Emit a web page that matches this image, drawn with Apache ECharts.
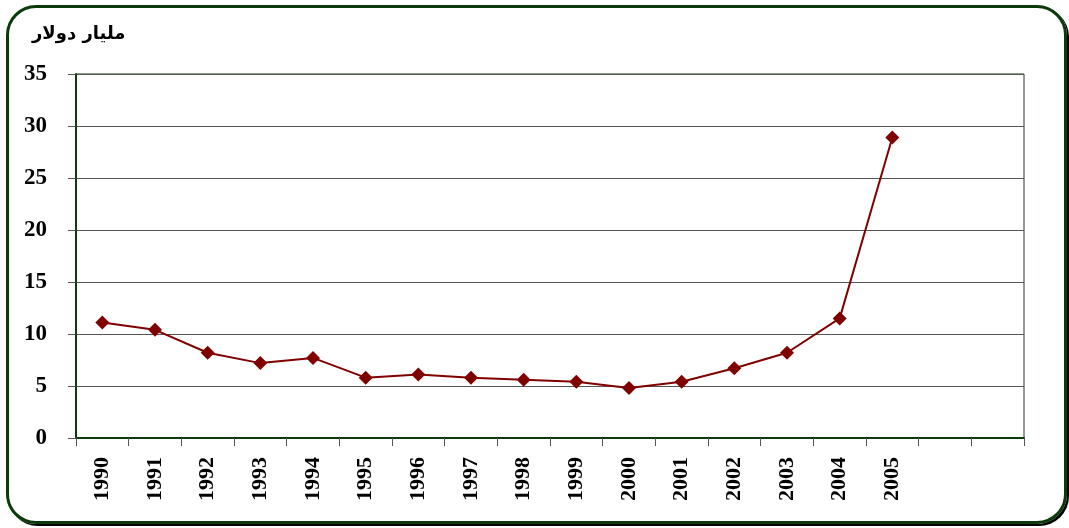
<!DOCTYPE html>
<html>
<head>
<meta charset="utf-8">
<script src="https://cdn.jsdelivr.net/npm/echarts@6/dist/echarts.min.js"></script>
<style>
  html, body { margin: 0; padding: 0; background: #fff; }
  #wrap { position: relative; width: 1069px; height: 528px; }
  #frame {
    position: absolute; left: 6px; top: 5px; width: 1055px; height: 513px;
    border: 3px solid #0b3a0b; border-radius: 30px;
    box-shadow: 2px 2px 0 #000;
  }
  #chart { position: absolute; left: 0; top: 0; width: 1069px; height: 528px; }
</style>
</head>
<body>
<div id="wrap">
  <div id="frame"></div>
  <div id="chart"></div>
</div>
<script>
var years = ['1990', '1991', '1992', '1993', '1994', '1995', '1996', '1997',
  '1998', '1999', '2000', '2001', '2002', '2003', '2004', '2005'];
var blankCats = [' ', '  '];
var values = [11.1, 10.4, 8.2, 7.2, 7.7, 5.8, 6.1, 5.8, 5.6, 5.4, 4.8, 5.4, 6.7, 8.2, 11.5, 28.9];
var yTicks = [0, 5, 10, 15, 20, 25, 30, 35];

var chart = echarts.init(document.getElementById('chart'));

var option = {
  animation: false,
  backgroundColor: 'transparent',
  title: {
    text: 'مليار دولار',
    left: 27,
    top: 20,
    textStyle: {
      fontFamily: 'DejaVu Sans',
      fontWeight: 'bold',
      fontSize: 18,
      color: '#000'
    }
  },
  grid: {
    left: 76,
    right: 45,
    top: 74,
    bottom: 90,
    show: true,
    borderColor: '#1f3f1f',
    borderWidth: 1
  },
  xAxis: {
    type: 'category',
    data: years.concat(blankCats),
    boundaryGap: true,
    axisLine: { lineStyle: { color: '#0b3a0b', width: 2 } },
    axisTick: { show: true, interval: 0, length: 8, lineStyle: { color: '#555' } },
    axisLabel: {
      interval: 0,
      rotate: 90,
      margin: 19,
      fontFamily: 'Liberation Serif',
      fontWeight: 'bold',
      fontSize: 22,
      color: '#000'
    },
    splitLine: { show: false }
  },
  yAxis: {
    type: 'value',
    min: yTicks[0],
    max: yTicks[yTicks.length - 1],
    interval: 5,
    axisLine: { show: true, lineStyle: { color: '#0b3a0b', width: 2 } },
    axisTick: { show: true, length: 8, lineStyle: { color: '#555' } },
    axisLabel: {
      margin: 29,
      fontFamily: 'Liberation Serif',
      fontWeight: 'bold',
      fontSize: 23,
      color: '#000'
    },
    splitLine: { show: true, lineStyle: { color: '#555', width: 1 } }
  },
  series: [
    {
      type: 'line',
      data: values,
      symbol: 'diamond',
      symbolSize: 14,
      lineStyle: { color: '#800000', width: 2 },
      itemStyle: { color: '#800000' }
    }
  ]
};

chart.setOption(option);
</script>
</body>
</html>
